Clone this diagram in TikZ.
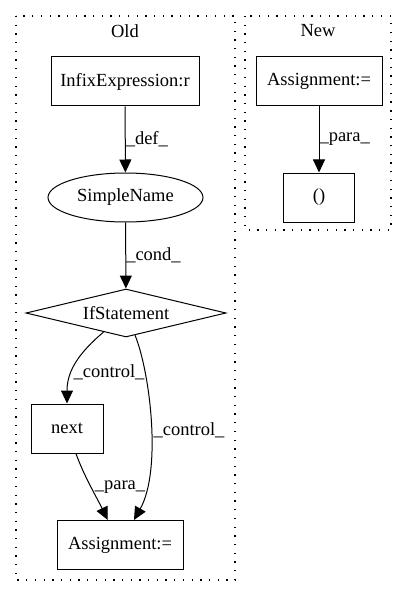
\documentclass[tikz,border=0pt]{standalone}
\usepackage{fontspec}
\setmainfont{Liberation Serif}
\usetikzlibrary{shapes.geometric,arrows.meta}
\begin{document}
\begin{tikzpicture}[x=1pt, y=-1pt,
    every node/.style={font=\fontsize{18.5}{22}\selectfont, text=black},
    box/.style={draw, line width=1pt, rectangle, inner sep=0pt, minimum height=49pt},
    lbl/.style={inner sep=0pt},
    arr/.style={line width=1pt, -{Triangle[length=13pt, width=12pt]}},
    clus/.style={line width=1.3pt, dash pattern=on 1.3pt off 7.4pt}]
                    \useasboundingbox (0,0) rectangle (408,596);
                    % clusters
                    \draw[clus] (16,16) rectangle (235,580);
                    \draw[clus] (245,16) rectangle (391,230);
                    \node (old) at (125,31) {Old};
                    \node (new) at (318,31) {New};
                    % old graph
                    \node[box, minimum width=148pt] (infix) at (125,81.5) {InfixExpression:r};
                    \node[draw, line width=1pt, ellipse, inner sep=0pt, minimum width=155pt, minimum height=49pt] (sname) at (125.5,197.5) {SimpleName};
                    \node[draw, line width=1pt, diamond, aspect=4.17, inner sep=0pt, minimum width=200pt, minimum height=48pt] (ifst) at (126,313) {IfStatement};
                    \node[box, minimum width=72pt] (nxt) at (67,428.5) {next};
                    \node[box, minimum width=126pt] (assignold) at (120,545) {Assignment:=};
                    \draw[arr] (infix) -- node[lbl, right] {\_def\_} (sname);
                    \draw[arr] (sname) -- node[lbl, right] {\_cond\_} (ifst);
                    \draw[arr] (ifst) .. controls (80,352) and (67,370) .. (nxt);
                    \draw[arr] (ifst) .. controls (150,372) and (162,470) .. (assignold);
                    \draw[arr] (nxt) .. controls (84,476) and (96,496) .. (assignold);
                    \node[lbl] (ctrla) at (109,372) {\_control\_};
                    \node[lbl] (ctrlb) at (189,430) {\_control\_};
                    \node[lbl] (paraold) at (120,487) {\_para\_};
                    % new graph
                    \node[box, minimum width=126pt] (assignnew) at (319,81.5) {Assignment:=};
                    \node[box, minimum width=71pt] (paren) at (319,197.5) {()};
                    \draw[arr] (assignnew) -- node[lbl, right] {\_para\_} (paren);
\end{tikzpicture}
\end{document}
